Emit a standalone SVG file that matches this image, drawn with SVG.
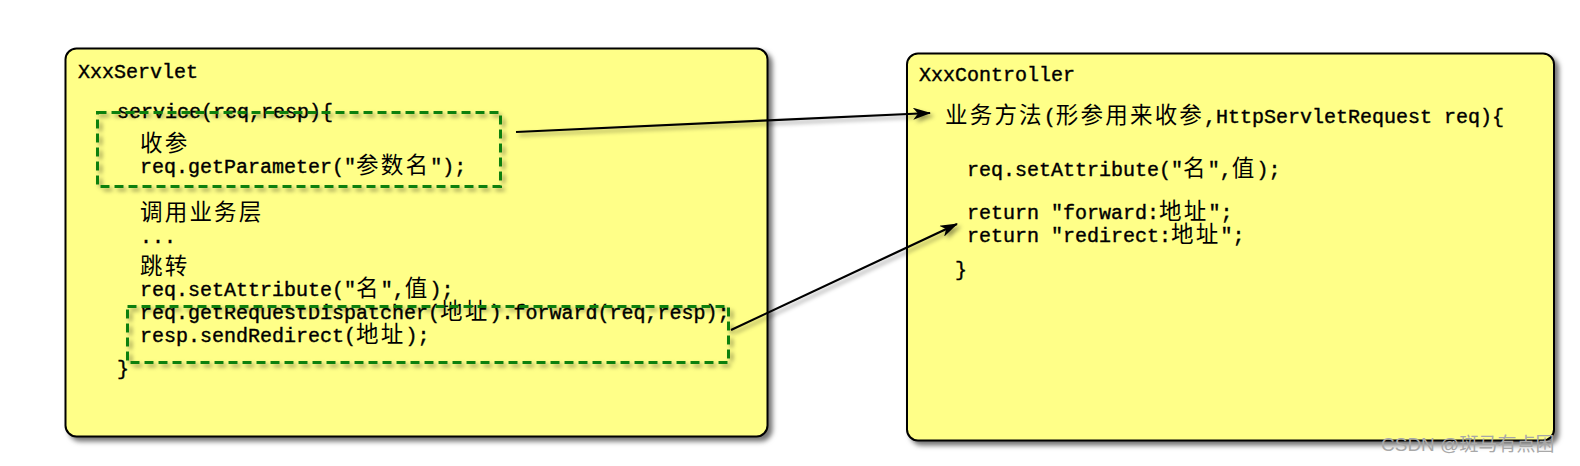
<svg xmlns="http://www.w3.org/2000/svg" width="1580" height="466" viewBox="0 0 1580 466">
<style>
.box{fill:#FFFF88;stroke:#000;stroke-width:2}
.dash{fill:none;stroke:#118011;stroke-width:3;stroke-dasharray:9 5}
.code{font-family:"Liberation Mono","Noto Sans CJK SC",monospace;font-size:20px;font-weight:normal;fill:#000;stroke:#000;stroke-width:0.4}
.cjk{font-family:"Noto Sans CJK SC",sans-serif;font-size:22.5px;letter-spacing:2.2px;stroke:none}
.conn{fill:none;stroke:#000;stroke-width:2.2}
.wm{font-family:"Liberation Sans","Noto Sans CJK SC",sans-serif;font-size:19px;fill:#a8a8a8}
</style>
<defs>
<filter id="sh" x="-10%" y="-10%" width="130%" height="130%">
<feDropShadow dx="4" dy="4" stdDeviation="2.5" flood-color="#000" flood-opacity="0.55"/>
</filter>
<filter id="sh2" x="-10%" y="-30%" width="130%" height="200%">
<feDropShadow dx="3" dy="3" stdDeviation="2" flood-color="#000" flood-opacity="0.4"/>
</filter>
<marker id="ah" markerWidth="18" markerHeight="12" refX="17" refY="6" orient="auto" markerUnits="userSpaceOnUse">
<path d="M0,0 L18,6 L0,12 L5,6 Z" fill="#000"/>
</marker>
</defs>
<rect width="1580" height="466" fill="#fff"/>

<g id="servlet">
<rect class="box" x="65.5" y="48.5" width="702" height="388" rx="11" filter="url(#sh)"/>
<text class="code" x="78" y="78">XxxServlet</text>
<text class="code" x="117" y="118">service(req,resp){</text>
<text class="code" x="140" y="151"><tspan class="cjk">收参</tspan></text>
<text class="code" x="140" y="173">req.getParameter("<tspan class="cjk">参数名</tspan>");</text>
<text class="code" x="140" y="220"><tspan class="cjk">调用业务层</tspan></text>
<text class="code" x="140" y="243">...</text>
<text class="code" x="140" y="274"><tspan class="cjk">跳转</tspan></text>
<text class="code" x="140" y="296">req.setAttribute("<tspan class="cjk">名</tspan>",<tspan class="cjk">值</tspan>);</text>
<text class="code" x="140" y="319">req.getRequestDispatcher(<tspan class="cjk">地址</tspan>).forward(req,resp);</text>
<text class="code" x="140" y="342">resp.sendRedirect(<tspan class="cjk">地址</tspan>);</text>
<text class="code" x="117" y="375">}</text>
</g>

<g id="param-box">
<rect class="dash" x="97.5" y="112.5" width="403" height="74" filter="url(#sh2)"/>
</g>
<g id="jump-box">
<rect class="dash" x="127.5" y="306.5" width="601" height="56" filter="url(#sh2)"/>
</g>

<g id="controller">
<rect class="box" x="907" y="53.5" width="647" height="387" rx="11" filter="url(#sh)"/>
<text class="code" x="919" y="81">XxxController</text>
<text class="code" x="945" y="123"><tspan class="cjk">业务方法</tspan>(<tspan class="cjk">形参用来收参</tspan>,HttpServletRequest req){</text>
<text class="code" x="967" y="176">req.setAttribute("<tspan class="cjk">名</tspan>",<tspan class="cjk">值</tspan>);</text>
<text class="code" x="967" y="219">return "forward:<tspan class="cjk">地址</tspan>";</text>
<text class="code" x="967" y="242">return "redirect:<tspan class="cjk">地址</tspan>";</text>
<text class="code" x="955" y="276">}</text>
</g>

<g id="connectors" filter="url(#sh2)">
<line class="conn" x1="516" y1="132" x2="930" y2="113" marker-end="url(#ah)"/>
<line class="conn" x1="731" y1="330" x2="957" y2="224" marker-end="url(#ah)"/>
</g>

<text class="wm" x="1381" y="451">CSDN @斑马有点困</text>
</svg>
